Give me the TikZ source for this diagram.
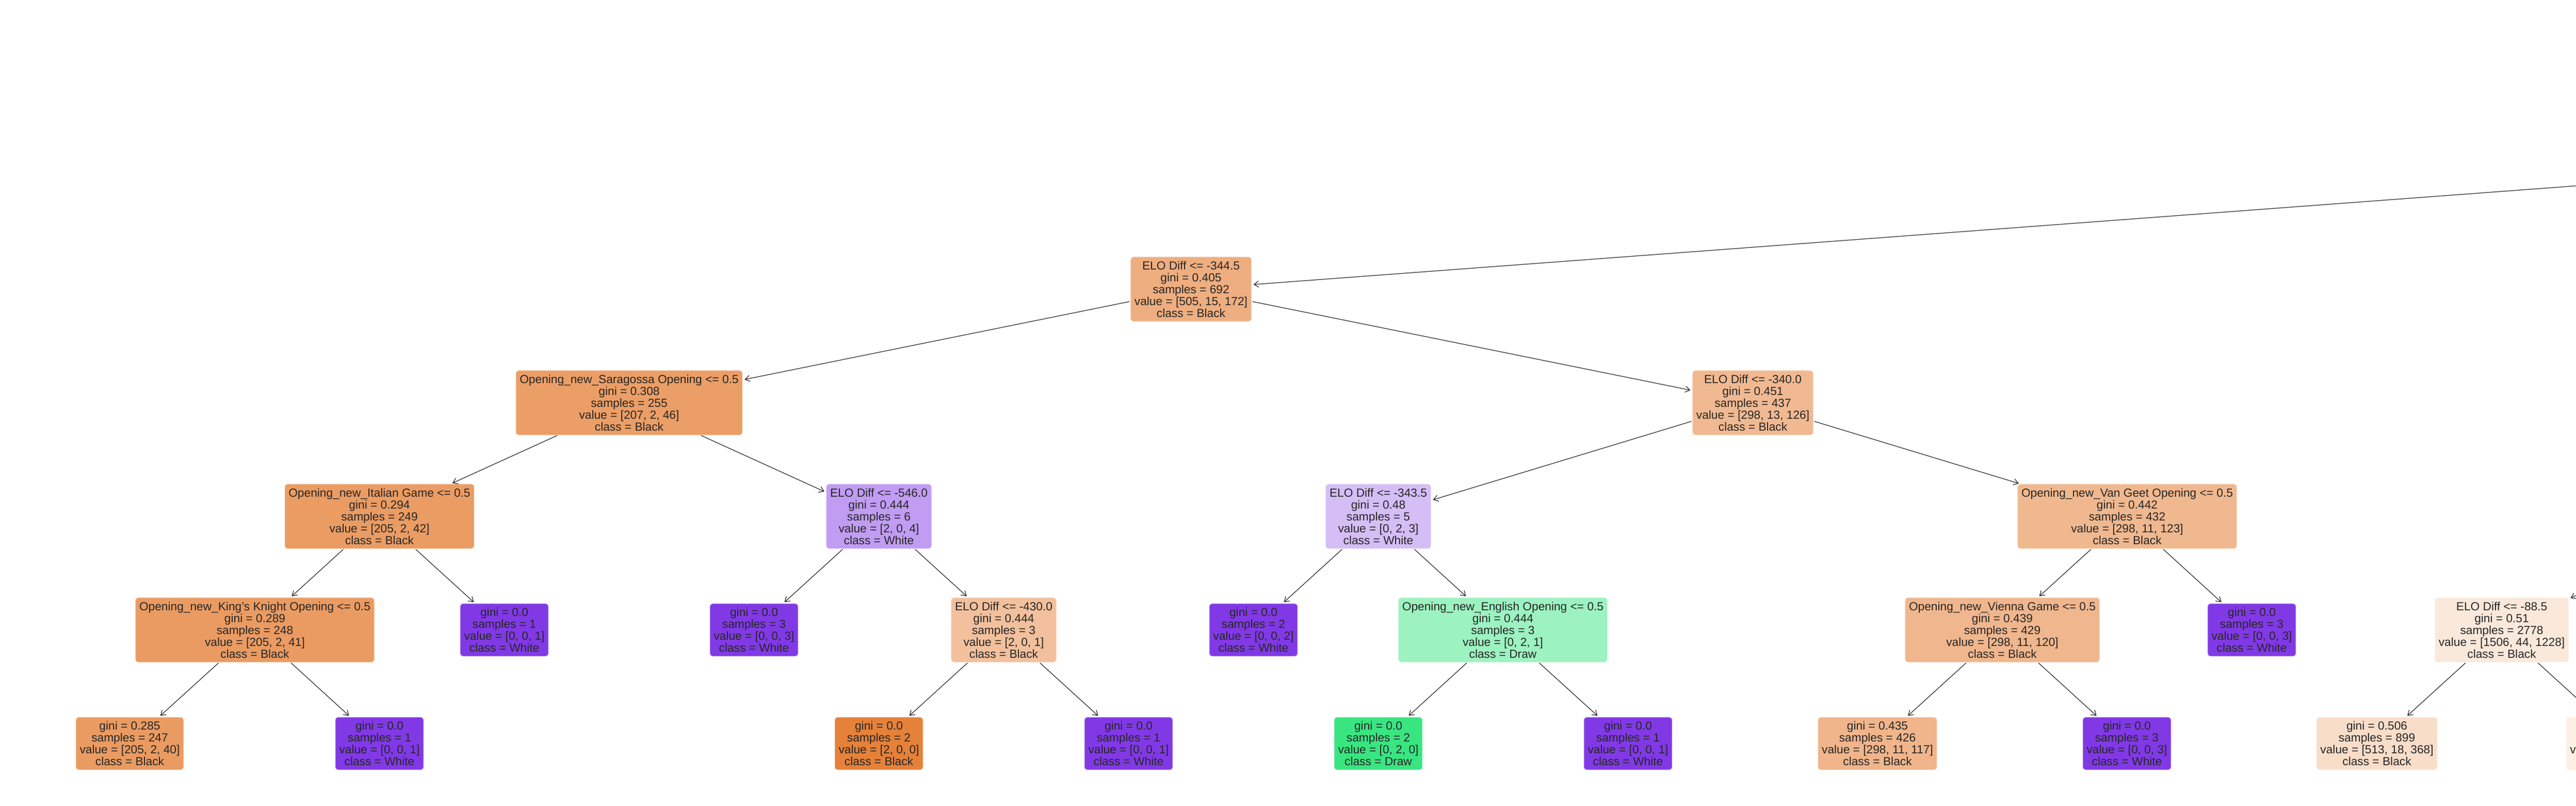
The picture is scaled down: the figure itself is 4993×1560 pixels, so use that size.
\documentclass[tikz,border=0pt]{standalone}
\usepackage{fontspec}
\setmainfont{Liberation Sans}[Ligatures=ResetAll]
\usepackage{tikz}
\usetikzlibrary{arrows.meta}
\definecolor{inkgray}{RGB}{38,38,38}
\definecolor{c344}{RGB}{238,174,128}
\definecolor{csar}{RGB}{235,158,102}
\definecolor{c340}{RGB}{241,185,145}
\definecolor{cita}{RGB}{234,156,99}
\definecolor{c546}{RGB}{192,156,242}
\definecolor{c3435}{RGB}{213,189,246}
\definecolor{cvg}{RGB}{240,184,143}
\definecolor{ckk}{RGB}{234,155,98}
\definecolor{c430}{RGB}{242,192,156}
\definecolor{ceng}{RGB}{156,242,192}
\definecolor{cvie}{RGB}{240,182,141}
\definecolor{c88}{RGB}{250,232,219}
\definecolor{c285}{RGB}{234,155,97}
\definecolor{c435}{RGB}{240,181,139}
\definecolor{c506}{RGB}{248,221,201}
\definecolor{crest}{RGB}{252,239,229}
\definecolor{cblack}{RGB}{229,129,57}
\definecolor{cdraw}{RGB}{57,229,129}
\definecolor{cwhite}{RGB}{129,57,229}

\begin{document}
\begin{tikzpicture}[x=0.01cm, y=-0.01cm,
tnode/.style={rectangle, rounded corners=0.05cm, fill=#1, draw=#1!75!white,
line width=0.3pt, text=inkgray, align=center, inner xsep=0.07cm, inner ysep=0.03cm,
font=\fontsize{6.46pt}{6.54pt}\selectfont},
split/.style={tnode=#1, minimum height=1.24cm},
leaf/.style={tnode=#1, minimum height=1.01cm},
arrow/.style={-{Straight Barb[length=0.09cm, width=0.12cm]}, draw=inkgray,
line width=0.35pt, shorten >=0.04cm, shorten <=0.02cm}
]
\useasboundingbox (0,0) rectangle (4993,1560);
\clip (0,0) rectangle (4993,1560);

% Off-picture parents
\coordinate (root) at (5261,340);
\coordinate (p88) at (5324,1000);

% Level 1
\node[split=c344] (n344) at (2308.5,560)
{ELO Diff <= -344.5\\gini = 0.405\\samples = 692\\value = [505, 15, 172]\\class = Black};

% Level 2
\node[split=csar] (nsar) at (1219.5,780)
{Opening\_new\_Saragossa Opening <= 0.5\\gini = 0.308\\samples = 255\\value = [207, 2, 46]\\class = Black};
\node[split=c340] (n340) at (3397.5,780)
{ELO Diff <= -340.0\\gini = 0.451\\samples = 437\\value = [298, 13, 126]\\class = Black};

% Level 3
\node[split=cita] (nita) at (735.5,1000)
{Opening\_new\_Italian Game <= 0.5\\gini = 0.294\\samples = 249\\value = [205, 2, 42]\\class = Black};
\node[split=c546] (n546) at (1703.5,1000)
{ELO Diff <= -546.0\\gini = 0.444\\samples = 6\\value = [2, 0, 4]\\class = White};
\node[split=c3435] (n3435) at (2671.5,1000)
{ELO Diff <= -343.5\\gini = 0.48\\samples = 5\\value = [0, 2, 3]\\class = White};
\node[split=cvg] (nvg) at (4123,1000)
{Opening\_new\_Van Geet Opening <= 0.5\\gini = 0.442\\samples = 432\\value = [298, 11, 123]\\class = Black};

% Level 4
\node[split=ckk] (nkk) at (494,1220)
{Opening\_new\_King's Knight Opening <= 0.5\\gini = 0.289\\samples = 248\\value = [205, 2, 41]\\class = Black};
\node[leaf=cwhite] (lw1a) at (977.5,1220)
{gini = 0.0\\samples = 1\\value = [0, 0, 1]\\class = White};
\node[leaf=cwhite] (lw3a) at (1461.5,1220)
{gini = 0.0\\samples = 3\\value = [0, 0, 3]\\class = White};
\node[split=c430] (n430) at (1945.5,1220)
{ELO Diff <= -430.0\\gini = 0.444\\samples = 3\\value = [2, 0, 1]\\class = Black};
\node[leaf=cwhite] (lw2) at (2429.5,1220)
{gini = 0.0\\samples = 2\\value = [0, 0, 2]\\class = White};
\node[split=ceng] (neng) at (2913,1220)
{Opening\_new\_English Opening <= 0.5\\gini = 0.444\\samples = 3\\value = [0, 2, 1]\\class = Draw};
\node[split=cvie] (nvie) at (3881,1220)
{Opening\_new\_Vienna Game <= 0.5\\gini = 0.439\\samples = 429\\value = [298, 11, 120]\\class = Black};
\node[leaf=cwhite] (lw3b) at (4364.5,1220)
{gini = 0.0\\samples = 3\\value = [0, 0, 3]\\class = White};
\node[split=c88] (n88) at (4849,1220)
{ELO Diff <= -88.5\\gini = 0.51\\samples = 2778\\value = [1506, 44, 1228]\\class = Black};

% Level 5
\node[leaf=c285] (l285) at (251.5,1440)
{gini = 0.285\\samples = 247\\value = [205, 2, 40]\\class = Black};
\node[leaf=cwhite] (lw1b) at (735.5,1440)
{gini = 0.0\\samples = 1\\value = [0, 0, 1]\\class = White};
\node[leaf=cblack] (lb2) at (1703.5,1440)
{gini = 0.0\\samples = 2\\value = [2, 0, 0]\\class = Black};
\node[leaf=cwhite] (lw1c) at (2187.5,1440)
{gini = 0.0\\samples = 1\\value = [0, 0, 1]\\class = White};
\node[leaf=cdraw] (ld2) at (2671.5,1440)
{gini = 0.0\\samples = 2\\value = [0, 2, 0]\\class = Draw};
\node[leaf=cwhite] (lw1d) at (3155.5,1440)
{gini = 0.0\\samples = 1\\value = [0, 0, 1]\\class = White};
\node[leaf=c435] (l435) at (3639,1440)
{gini = 0.435\\samples = 426\\value = [298, 11, 117]\\class = Black};
\node[leaf=cwhite] (lw3c) at (4122.5,1440)
{gini = 0.0\\samples = 3\\value = [0, 0, 3]\\class = White};
\node[leaf=c506] (l506) at (4607,1440)
{gini = 0.506\\samples = 899\\value = [513, 18, 368]\\class = Black};
\node[leaf=crest] (lrest) at (5091,1440)
{gini = 0.511\\samples = 1879\\value = [993, 26, 860]\\class = Black};

% Arrows
\draw[arrow] (root) -- (n344);
\draw[arrow] (n344) -- (nsar);
\draw[arrow] (n344) -- (n340);
\draw[arrow] (nsar) -- (nita);
\draw[arrow] (nsar) -- (n546);
\draw[arrow] (n340) -- (n3435);
\draw[arrow] (n340) -- (nvg);
\draw[arrow] (nita) -- (nkk);
\draw[arrow] (nita) -- (lw1a);
\draw[arrow] (n546) -- (lw3a);
\draw[arrow] (n546) -- (n430);
\draw[arrow] (n3435) -- (lw2);
\draw[arrow] (n3435) -- (neng);
\draw[arrow] (nvg) -- (nvie);
\draw[arrow] (nvg) -- (lw3b);
\draw[arrow] (p88) -- (n88);
\draw[arrow] (nkk) -- (l285);
\draw[arrow] (nkk) -- (lw1b);
\draw[arrow] (n430) -- (lb2);
\draw[arrow] (n430) -- (lw1c);
\draw[arrow] (neng) -- (ld2);
\draw[arrow] (neng) -- (lw1d);
\draw[arrow] (nvie) -- (l435);
\draw[arrow] (nvie) -- (lw3c);
\draw[arrow] (n88) -- (l506);
\draw[arrow] (n88) -- (lrest);

\end{tikzpicture}
\end{document}
